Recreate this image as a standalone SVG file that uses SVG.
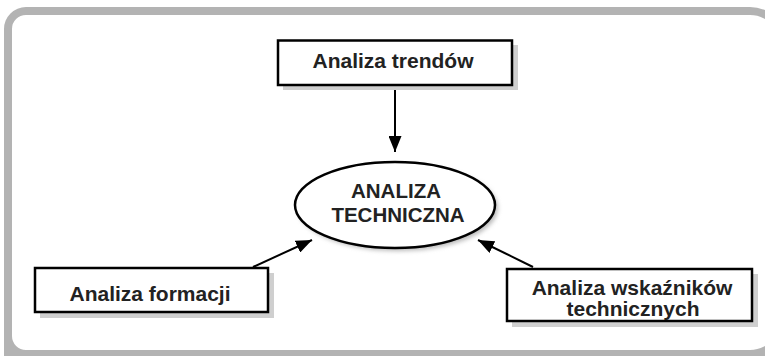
<svg xmlns="http://www.w3.org/2000/svg" width="765" height="356" viewBox="0 0 765 356">
<style>
.box{fill:#fff;stroke:#000;stroke-width:2.5}
.sh{fill:#cfcfcf}
.t{font-family:"Liberation Sans",Arial,sans-serif;font-weight:bold;font-size:21px;fill:#222;text-anchor:middle}
.tc{font-size:20.5px}
.c{stroke:#000;stroke-width:2;fill:none;marker-end:url(#ah)}
</style>
<defs>
<marker id="ah" viewBox="0 0 16 13" refX="16" refY="6.5" markerWidth="16" markerHeight="13" markerUnits="userSpaceOnUse" orient="auto">
<path d="M0,0 L16,6.5 L0,13 Z" fill="#000"/>
</marker>
<filter id="blur" x="-20%" y="-20%" width="140%" height="140%"><feGaussianBlur stdDeviation="2"/></filter>
</defs>
<rect width="765" height="356" fill="#fff"/>
<path fill="#b3b3b3" d="M4,356 V29 A22,22 0 0 1 26,7 H750 A38,38 0 0 1 765,10.1 V19 A30,30 0 0 0 750,15 H26 A14,14 0 0 0 12,29 V336 A14,14 0 0 0 26,350 H750 A30,30 0 0 0 765,346 V356 Z"/>
<g id="connectors">
<line class="c" x1="395" y1="86" x2="395" y2="152"/>
<line class="c" x1="253" y1="267" x2="312" y2="240"/>
<line class="c" x1="533" y1="267" x2="478" y2="240"/>
</g>
<g id="n-trendow">
<rect class="sh" x="283" y="45" width="235" height="45"/>
<rect class="box" x="278" y="40.5" width="234" height="44.5"/>
<text class="t" x="393" y="68">Analiza trendów</text>
</g>
<g id="n-techniczna">
<ellipse cx="398" cy="208" rx="100" ry="43" fill="#bbb" filter="url(#blur)"/>
<ellipse cx="395" cy="205" rx="100" ry="43" fill="#fff" stroke="#000" stroke-width="2.5"/>
<text class="t tc" x="396" y="198">ANALIZA</text>
<text class="t tc" x="398" y="222">TECHNICZNA</text>
</g>
<g id="n-formacji">
<rect class="sh" x="40" y="273" width="234" height="45"/>
<rect class="box" x="35" y="268" width="233" height="44"/>
<text class="t" x="150" y="301">Analiza formacji</text>
</g>
<g id="n-wskazniki">
<rect class="sh" x="512" y="274" width="246" height="53"/>
<rect class="box" x="507" y="269" width="245" height="52"/>
<text class="t" x="632" y="295">Analiza wskaźników</text>
<text class="t" x="633" y="316">technicznych</text>
</g>
</svg>
